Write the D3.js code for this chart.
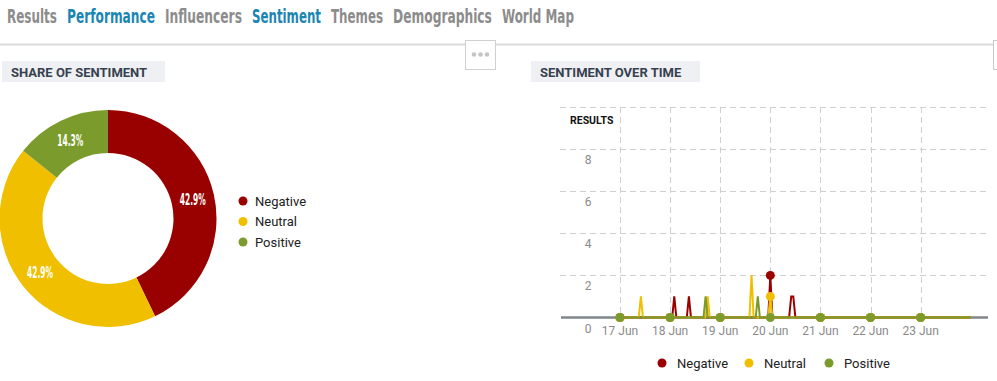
<!DOCTYPE html>
<html><head><meta charset="utf-8">
<script src="https://cdn.jsdelivr.net/npm/d3@7"></script>
<style>
html,body{margin:0;padding:0;background:#fff;}
svg{display:block;}
</style></head>
<body>
<svg id="c" width="997" height="381"></svg>
<script>
// ---------- data ----------
const navItems = ["Results","Performance","Influencers","Sentiment","Themes","Demographics","World Map"];
const navActive = ["Performance","Sentiment"];

const categories = ["Negative","Neutral","Positive"];
const shareCounts = [3, 3, 1];
const colors = ["#990000", "#f0c000", "#7b9c2c"];

const dayTicks = ["17 Jun","18 Jun","19 Jun","20 Jun","21 Jun","22 Jun","23 Jun"];
const yTicks = [0, 2, 4, 6, 8, 10];

const negativeTimes = ["17 Jun 00:00","18 Jun 00:00","18 Jun 01:00","18 Jun 02:00","18 Jun 03:00","18 Jun 08:00","18 Jun 09:00","18 Jun 10:00","19 Jun 00:00","19 Jun 23:00","20 Jun 00:00","20 Jun 01:00","20 Jun 09:00","20 Jun 10:00","20 Jun 11:00","20 Jun 12:00","21 Jun 00:00","22 Jun 00:00","23 Jun 00:00","24 Jun 00:00"];
const negativeValues = [0,0,0,1,0,0,1,0,0,0,2,0,0,1,1,0,0,0,0,0];

const neutralTimes = ["17 Jun 00:00","17 Jun 09:00","17 Jun 10:00","17 Jun 11:00","18 Jun 00:00","18 Jun 17:00","18 Jun 18:00","18 Jun 19:00","19 Jun 00:00","19 Jun 14:00","19 Jun 15:00","19 Jun 16:00","19 Jun 23:00","20 Jun 00:00","20 Jun 01:00","21 Jun 00:00","22 Jun 00:00","23 Jun 00:00","24 Jun 00:00"];
const neutralValues = [0,0,1,0,0,0,1,0,0,0,2,0,0,1,0,0,0,0,0];

const positiveTimes = ["17 Jun 00:00","18 Jun 00:00","18 Jun 16:00","18 Jun 17:00","18 Jun 18:00","19 Jun 00:00","19 Jun 17:00","19 Jun 18:00","19 Jun 19:00","20 Jun 00:00","21 Jun 00:00","22 Jun 00:00","23 Jun 00:00","24 Jun 00:00"];
const positiveValues = [0,0,0,1,0,0,0,1,0,0,0,0,0,0];

const xDomain = ["15 Jun 19:45","24 Jun 08:15"];

// ---------- drawing ----------
const svg = d3.select("#c");
const parse = d3.timeParse("%d %b %H:%M");
const parseDay = d3.timeParse("%d %b");

// condensed text helper: draws text then squeezes it horizontally to a target width
function condensed(g, x, y, str, size, fill, targetW, anchor){
  const t = g.append("text").attr("font-family","'DejaVu Sans Condensed','DejaVu Sans',sans-serif")
    .attr("font-size",size).attr("font-weight","bold").attr("fill",fill).text(str);
  const w = t.node().getComputedTextLength();
  const sx = targetW / w;
  const ox = anchor==="middle" ? x - targetW/2 : x;
  t.attr("transform",`translate(${ox},${y}) scale(${sx},1)`);
  return t;
}

// nav
const navPos = [7,67,165,252,331,393,502];
const navW = [50,88,77,69,52,99,72];
const gn = svg.append("g");
navItems.forEach((d,i)=>condensed(gn, navPos[i], 23, d, 20, navActive.includes(d)?"#1b86b3":"#8c8c8c", navW[i]));

// separator line
svg.append("line").attr("x1",0).attr("x2",997).attr("y1",44.5).attr("y2",44.5)
  .attr("stroke","#dcdcdc").attr("stroke-width",2);
// "..." box
svg.append("rect").attr("x",465.5).attr("y",40.5).attr("width",30).attr("height",29)
  .attr("fill","#fff").attr("stroke","#d0d0d0");
svg.append("g").selectAll("circle").data([0,1,2]).join("circle")
  .attr("cx",d=>474+d*6.5).attr("cy",54.5).attr("r",2.3).attr("fill","#c4c4c4");
// right edge box
svg.append("path").attr("d","M997,40.5 H993.5 V69.5 H997").attr("fill","#fff").attr("stroke","#c8c8c8");

// section headers
function header(x,w,label){
  svg.append("rect").attr("x",x).attr("y",61).attr("width",w).attr("height",21).attr("fill","#eef0f3");
  svg.append("text").attr("x",x+9).attr("y",76.5).attr("font-family","Roboto, sans-serif")
    .attr("font-weight","bold").attr("font-size",13).attr("fill","#37414f").text(label);
}
header(2,163,"SHARE OF SENTIMENT");
header(531,169,"SENTIMENT OVER TIME");

// donut
const cx=108, cy=218.5, rO=108.5, rI=65.5;
const pie = d3.pie().sort(null).value(d=>d)(shareCounts);
const arc = d3.arc().innerRadius(rI).outerRadius(rO);
const labelArc = d3.arc().innerRadius(87).outerRadius(87);
const total = d3.sum(shareCounts);
const gp = svg.append("g").attr("transform",`translate(${cx},${cy})`);
gp.selectAll("path").data(pie).join("path").attr("d",arc).attr("fill",(d,i)=>colors[i]);
pie.forEach(d=>{
  const [px,py] = labelArc.centroid(d);
  condensed(gp, px, py+5.5, (d.data/total*100).toFixed(1)+"%", 15, "#fff", 26, "middle");
});

// donut legend
const lg = svg.append("g");
categories.forEach((c,i)=>{
  lg.append("circle").attr("cx",243).attr("cy",201+i*20.5).attr("r",4.5).attr("fill",colors[i]);
  lg.append("text").attr("x",255).attr("y",205.5+i*20.5).attr("font-family","Roboto, sans-serif")
    .attr("font-size",13).attr("fill","#222").text(c);
});

// line chart
const x = d3.scaleTime().domain(xDomain.map(parse)).range([561,988]);
const y = d3.scaleLinear().domain([0,10]).range([317.5,107]);
const gl = svg.append("g");

// horizontal grid
gl.selectAll(".hg").data(yTicks.filter(v=>v>0)).join("line")
  .attr("x1",560).attr("x2",988).attr("y1",d=>Math.round(y(d))+0.5).attr("y2",d=>Math.round(y(d))+0.5)
  .attr("stroke","#cfcfcf").attr("stroke-dasharray","6,4");
// vertical grid
gl.selectAll(".vg").data(dayTicks).join("line")
  .attr("x1",d=>Math.round(x(parseDay(d)))+0.5).attr("x2",d=>Math.round(x(parseDay(d)))+0.5)
  .attr("y1",107).attr("y2",317)
  .attr("stroke","#cfcfcf").attr("stroke-dasharray","6,4");
// baseline axis
gl.append("line").attr("x1",561).attr("x2",988).attr("y1",317.5).attr("y2",317.5)
  .attr("stroke","#7f868c").attr("stroke-width",2.5);

// y labels
gl.selectAll(".yl").data(yTicks.filter(v=>v<10)).join("text")
  .attr("x",588).attr("y",d=>y(d)+15).attr("text-anchor","middle")
  .attr("font-family","Roboto, sans-serif").attr("font-size",12).attr("fill","#8a8a8a").text(d=>d);
gl.append("text").attr("x",570).attr("y",124).attr("font-family","Roboto, sans-serif")
  .attr("font-weight","bold").attr("font-size",10.5).attr("fill","#111").text("RESULTS");
// x labels
gl.selectAll(".xl").data(dayTicks).join("text")
  .attr("x",d=>x(parseDay(d))).attr("y",334.5).attr("text-anchor","middle")
  .attr("font-family","Roboto, sans-serif").attr("font-size",12).attr("fill","#8a8a8a").text(d=>d);

// series
const series = [
  {name:"Negative", t:negativeTimes, v:negativeValues},
  {name:"Neutral", t:neutralTimes, v:neutralValues},
  {name:"Positive", t:positiveTimes, v:positiveValues}
];
const line = d3.line().x(d=>x(d[0])).y(d=>y(d[1]));
series.forEach((s,i)=>{
  const pts = s.t.map((t,j)=>[parse(t), s.v[j]]);
  gl.append("path").attr("d",line(pts)).attr("fill","none")
    .attr("stroke",colors[i]).attr("stroke-width",2);
});
series.forEach((s,i)=>{
  const pts = s.t.map((t,j)=>[parse(t), s.v[j], t])
    .filter(p=>p[2].endsWith("00:00") && dayTicks.includes(p[2].slice(0,6)));
  gl.selectAll(null).data(pts).join("circle")
    .attr("cx",d=>x(d[0])).attr("cy",d=>y(d[1])).attr("r",4.5).attr("fill",colors[i]);
});

// line legend
const lx = [662,749,829];
categories.forEach((c,i)=>{
  svg.append("circle").attr("cx",lx[i]).attr("cy",363).attr("r",4.5).attr("fill",colors[i]);
  svg.append("text").attr("x",lx[i]+15).attr("y",367.5).attr("font-family","Roboto, sans-serif")
    .attr("font-size",13).attr("fill","#222").text(c);
});
</script>
</body></html>
